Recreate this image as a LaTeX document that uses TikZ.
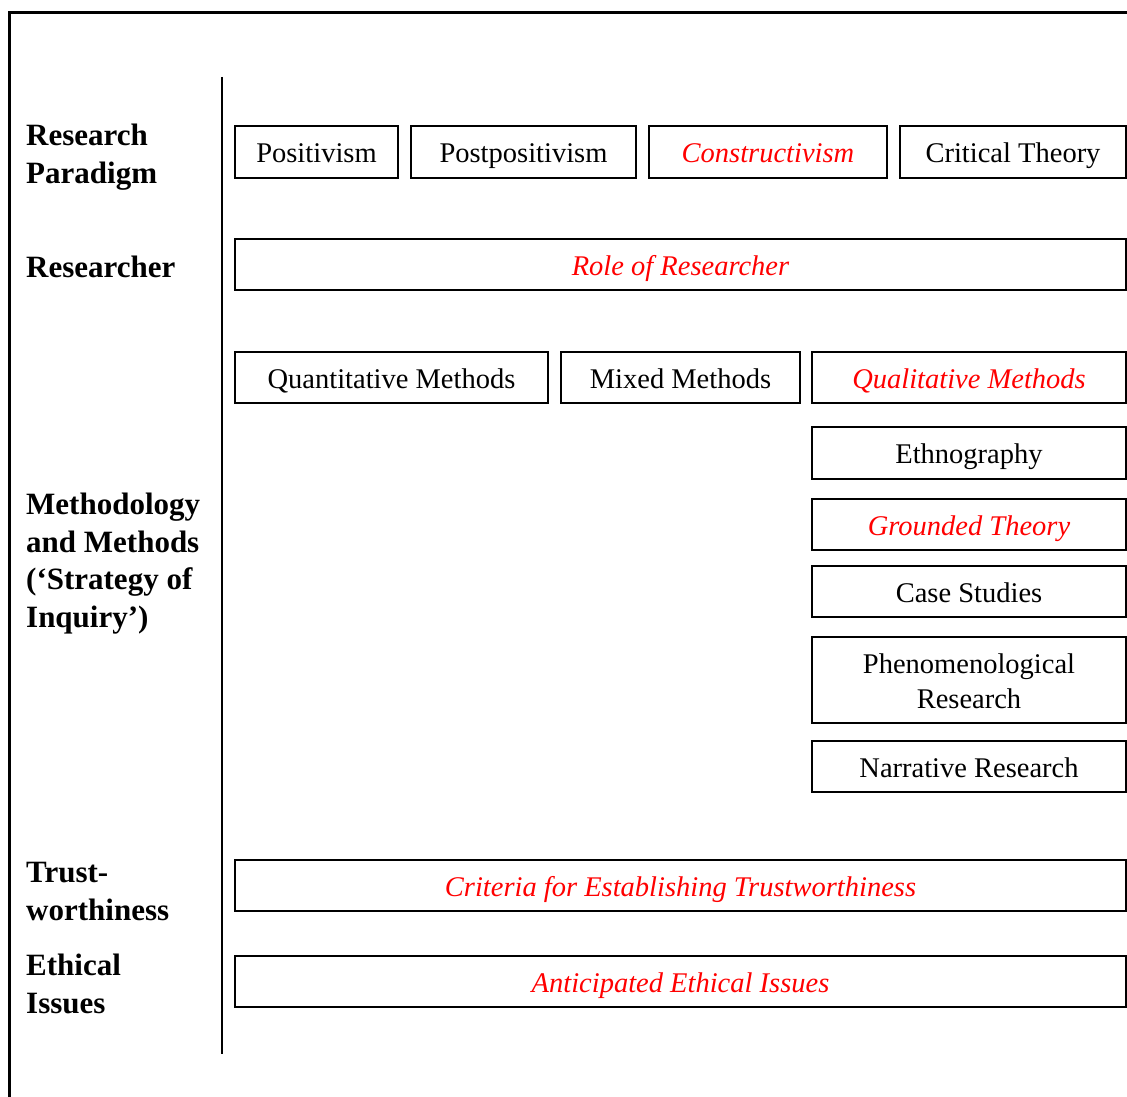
\documentclass[tikz,border=0pt]{standalone}
\usepackage{fontspec}
\setmainfont{Liberation Serif}
\begin{document}
\begin{tikzpicture}[x=1pt,y=-1pt,
  box/.style={draw, line width=1.3pt, inner sep=0pt, minimum height=52pt,
    font=\fontsize{28.5}{35}\selectfont, text height=27pt, text depth=6pt},
  hl/.style={text=red, font=\fontsize{28.5}{35}\selectfont\itshape},
  lab/.style={anchor=base west, align=left, inner sep=0pt,
    font=\fontsize{31}{37.5}\selectfont\bfseries}]
\useasboundingbox (0,0) rectangle (1127,1097);
% frame
\draw[line width=3pt] (9,1097) -- (9,13) -- (1127,13);
\coordinate (dtop) at (222,77);
\coordinate (dbot) at (222,1054);
\draw[line width=1.5pt] (dtop) -- (dbot);
% left labels (anchored at the baseline of their last line)
\node[lab] (lparadigm) at (26,183) {Research\\Paradigm};
\node[lab] (lresearcher) at (26,277) {Researcher};
\node[lab] (lmethod) at (26,627) {Methodology\\and Methods\\(‘Strategy of\\Inquiry’)};
\node[lab] (ltrust) at (26,920) {Trust-\\worthiness};
\node[lab] (lethic) at (26,1013) {Ethical\\Issues};
% row 1
\node[box, minimum width=163pt] (pos) at (316.5,152) {Positivism};
\node[box, minimum width=225pt] (postpos) at (523.5,152) {Postpositivism};
\node[box, hl, minimum width=238pt] (constr) at (768,152) {Constructivism};
\node[box, minimum width=226pt] (crit) at (1013,152) {Critical Theory};
% researcher
\node[box, hl, minimum width=891pt, minimum height=51pt] (role) at (680.5,264.5) {Role of Researcher};
% methods
\node[box, minimum width=313pt, minimum height=51pt] (quant) at (391.5,377.5) {Quantitative Methods};
\node[box, minimum width=239pt, minimum height=51pt] (mixed) at (680.5,377.5) {Mixed Methods};
\node[box, hl, minimum width=314pt, minimum height=51pt] (qual) at (969,377.5) {Qualitative Methods};
\node[box, minimum width=314pt] (ethno) at (969,453) {Ethnography};
\node[box, hl, minimum width=314pt, minimum height=51pt] (grounded) at (969,524.5) {Grounded Theory};
\node[box, minimum width=314pt, minimum height=51pt] (case) at (969,591.5) {Case Studies};
\node[draw, line width=1.3pt, minimum width=314pt, minimum height=86pt, inner sep=0pt] (phen) at (969,680) {};
\node[inner sep=0pt, align=center, anchor=base, font=\fontsize{28.5}{35}\selectfont] (phentext) at (969,708) {Phenomenological\\Research};
\node[box, minimum width=314pt, minimum height=51pt] (narr) at (969,766.5) {Narrative Research};
% trust, ethics
\node[box, hl, minimum width=891pt, minimum height=51pt] (crit2) at (680.5,885.5) {Criteria for Establishing Trustworthiness};
\node[box, hl, minimum width=891pt, minimum height=51pt] (ethics) at (680.5,981.5) {Anticipated Ethical Issues};
\end{tikzpicture}
\end{document}
